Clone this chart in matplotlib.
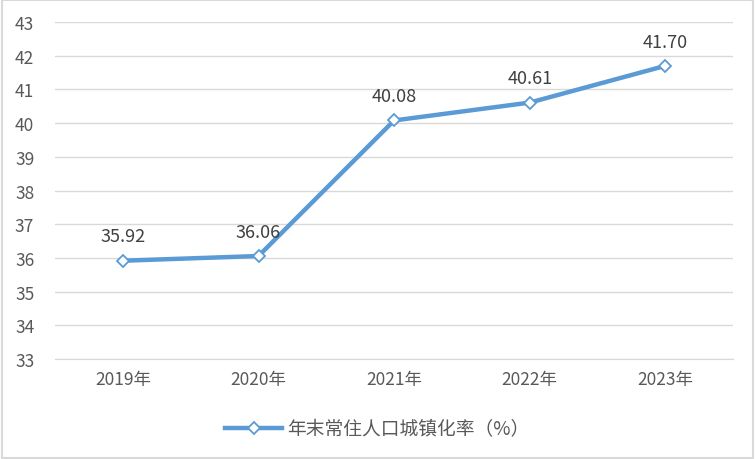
import matplotlib.pyplot as plt
from matplotlib.patches import Rectangle

plt.rcParams['font.family'] = ['Microsoft YaHei', 'Noto Sans CJK SC', 'DejaVu Sans']

years = ['2019年', '2020年', '2021年', '2022年', '2023年']
rate = [35.92, 36.06, 40.08, 40.61, 41.70]
series_name = '年末常住人口城镇化率（%）'

blue = '#5B9BD5'
txt = '#595959'

fig = plt.figure(figsize=(7.55, 4.6), dpi=100)
ax = fig.add_axes([0.073, 0.217, 0.898, 0.733])

x = list(range(len(years)))
ax.plot(x, rate, color=blue, linewidth=3.2, marker='D', markersize=6,
        markerfacecolor='white', markeredgecolor=blue, markeredgewidth=1.3,
        label=series_name, zorder=3)

for xi, v in zip(x, rate):
    ax.annotate(f'{v:.2f}', (xi, v), xytext=(0, 11), textcoords='offset points',
                ha='center', va='bottom', fontsize=13, color='#404040')

ax.set_xlim(-0.5, len(years) - 0.5)
ax.set_ylim(33, 43)
ax.set_yticks(range(33, 44))
ax.set_xticks(x)
ax.set_xticklabels(years)
ax.grid(axis='y', color='#D9D9D9', linewidth=1)
ax.set_axisbelow(True)
for s in ['top', 'right', 'left']:
    ax.spines[s].set_visible(False)
ax.spines['bottom'].set_color('#D9D9D9')
ax.tick_params(length=0, labelsize=12.5, colors=txt, pad=8)
ax.tick_params(axis='y', pad=15)

leg = fig.legend(loc='center', bbox_to_anchor=(0.5, 0.065), frameon=False,
                 fontsize=13.5, handlelength=3, handletextpad=0.3, labelcolor=txt)

fig.patches.append(Rectangle((0.002, 0.002), 0.996, 0.996, transform=fig.transFigure,
                             fill=False, edgecolor='#D9D9D9', linewidth=1.5))

fig.savefig('out.png', dpi=100)
